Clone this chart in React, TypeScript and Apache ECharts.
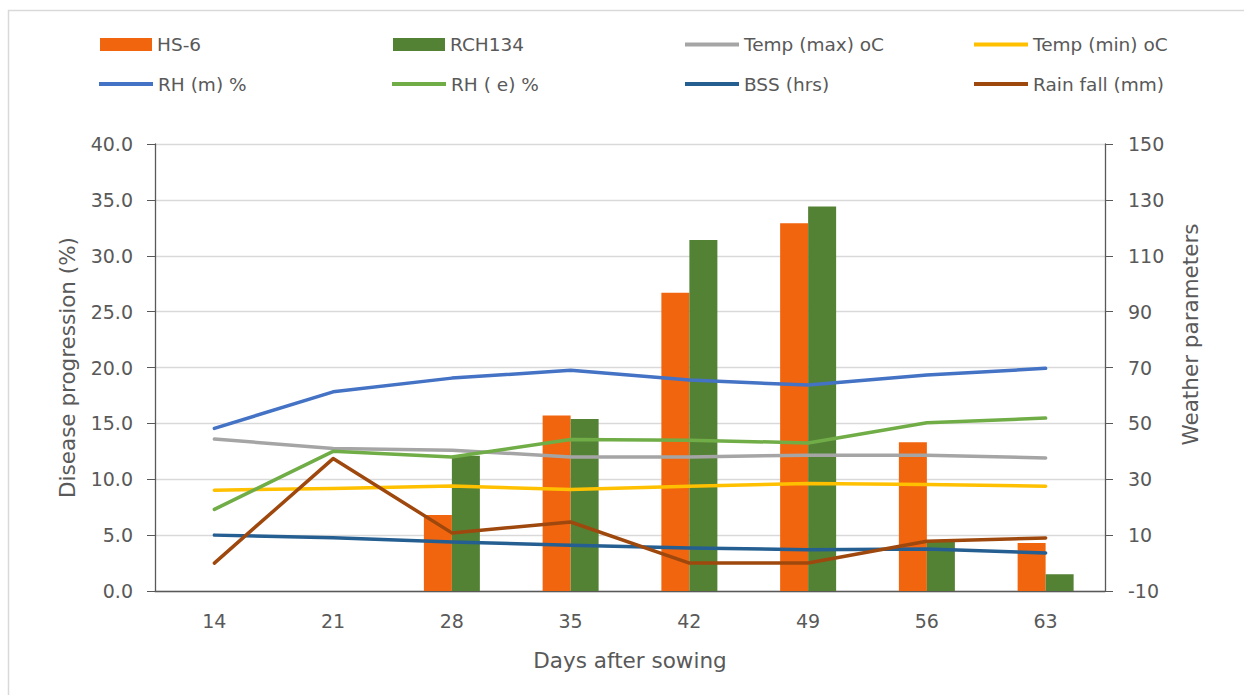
import React, { useEffect, useRef } from "react";
import * as echarts from "echarts";

// Days after sowing (category axis)
const days = ["14", "21", "28", "35", "42", "49", "56", "63"];

// Disease progression (%) — left axis
const hs6 = [0, 0, 6.8, 15.7, 26.7, 32.9, 13.3, 4.3];
const rch134 = [0, 0, 12.1, 15.4, 31.4, 34.4, 4.5, 1.5];

// Weather parameters — right axis
const tempMax = [44.4, 41.0, 40.4, 38.0, 38.0, 38.6, 38.6, 37.6];
const tempMin = [26.1, 26.7, 27.6, 26.3, 27.5, 28.5, 28.1, 27.5];
const rhMorning = [48.2, 61.3, 66.2, 69.0, 65.5, 63.7, 67.3, 69.7];
const rhEvening = [19.2, 40.0, 38.0, 44.2, 44.0, 43.0, 50.2, 51.9];
const bss = [10.0, 9.1, 7.5, 6.4, 5.4, 4.8, 5.0, 3.6];
const rainfall = [0, 37.4, 10.8, 14.7, 0, 0, 7.8, 9.0];

// Axis tick values
const leftTicks = [0, 5, 10, 15, 20, 25, 30, 35, 40];
const rightTicks = [-10, 10, 30, 50, 70, 90, 110, 130, 150];

const FONT = "DejaVu Sans";
const TEXT = "#595959";
const AXIS = "#595959";

const lineDefs = [
  { name: "Temp (max) oC", data: tempMax, color: "#A5A5A5" },
  { name: "Temp (min) oC", data: tempMin, color: "#FFC000" },
  { name: "RH (m) %", data: rhMorning, color: "#4472C4" },
  { name: "RH ( e) %", data: rhEvening, color: "#70AD47" },
  { name: "BSS (hrs)", data: bss, color: "#255E91" },
  { name: "Rain fall (mm)", data: rainfall, color: "#9E480E" },
];

const legendSlots = [
  { name: "HS-6", left: 100, row: 0, bar: true },
  { name: "RCH134", left: 393, row: 0, bar: true },
  { name: "Temp (max) oC", left: 685, row: 0, bar: false },
  { name: "Temp (min) oC", left: 974, row: 0, bar: false },
  { name: "RH (m) %", left: 99, row: 1, bar: false },
  { name: "RH ( e) %", left: 392, row: 1, bar: false },
  { name: "BSS (hrs)", left: 685, row: 1, bar: false },
  { name: "Rain fall (mm)", left: 974, row: 1, bar: false },
];

export default function App() {
  const ref = useRef<HTMLDivElement>(null);

  useEffect(() => {
    if (!ref.current) return;
    const chart = echarts.init(ref.current, null, { renderer: "svg" });

    const legends = legendSlots.map((s) => {
      const center = s.row === 0 ? 44.5 : 84;
      return {
        data: [s.name],
        left: s.left,
        top: center - 9.5,
        padding: 0,
        itemGap: 0,
        itemWidth: s.bar ? 52 : 54,
        itemHeight: s.bar ? 13 : 4,
        icon: "rect",
        textStyle: { fontFamily: FONT, fontSize: 18.5, color: TEXT },
        selectedMode: false,
      };
    });

    chart.setOption({
      animation: false,
      backgroundColor: "#ffffff",
      textStyle: { fontFamily: FONT },
      graphic: [
        {
          type: "rect",
          shape: { x: 8.5, y: 10.5, width: 1300, height: 800 },
          style: { fill: "none", stroke: "#D9D9D9", lineWidth: 1.5 },
          silent: true,
        },
      ],
      legend: legends,
      grid: { left: 155, right: 139, top: 144, bottom: 104, containLabel: false },
      xAxis: {
        type: "category",
        data: days,
        axisLine: { show: true, lineStyle: { color: AXIS, width: 1.3 } },
        axisTick: { show: false },
        axisLabel: { fontFamily: FONT, fontSize: 19, color: TEXT, margin: 20 },
        name: "Days after sowing",
        nameLocation: "middle",
        nameGap: 58,
        nameTextStyle: { fontFamily: FONT, fontSize: 21.5, color: TEXT },
      },
      yAxis: [
        {
          type: "value",
          min: 0,
          max: 40,
          interval: 5,
          axisLine: { show: true, lineStyle: { color: AXIS, width: 1.3 } },
          axisTick: { show: true, inside: false, length: 8, lineStyle: { color: AXIS } },
          axisLabel: {
            fontFamily: FONT,
            fontSize: 19,
            color: TEXT,
            margin: 22,
            customValues: leftTicks,
            formatter: (v: number) => v.toFixed(1),
          },
          splitLine: { show: true, lineStyle: { color: "#D9D9D9", width: 1.3 } },
          name: "Disease progression (%)",
          nameLocation: "middle",
          nameGap: 77,
          nameTextStyle: { fontFamily: FONT, fontSize: 21.5, color: TEXT },
        },
        {
          type: "value",
          min: -10,
          max: 150,
          interval: 20,
          position: "right",
          axisLine: { show: true, lineStyle: { color: AXIS, width: 1.3 } },
          axisTick: {
            show: true,
            inside: false,
            length: 8,
            customValues: rightTicks,
            lineStyle: { color: AXIS },
          },
          axisLabel: {
            fontFamily: FONT,
            fontSize: 19,
            color: TEXT,
            margin: 23,
            customValues: rightTicks,
          },
          splitLine: { show: false },
          name: "Weather parameters",
          nameLocation: "middle",
          nameGap: 74,
          nameTextStyle: {
            fontFamily: FONT,
            fontSize: 21.5,
            color: TEXT,
            padding: [0, 0, 0, 66],
          },
        },
      ],
      series: [
        {
          name: "HS-6",
          type: "bar",
          data: hs6,
          yAxisIndex: 0,
          barWidth: 28,
          barGap: "0%",
          itemStyle: { color: "#F1650F" },
        },
        {
          name: "RCH134",
          type: "bar",
          data: rch134,
          yAxisIndex: 0,
          barWidth: 28,
          barGap: "0%",
          itemStyle: { color: "#548235" },
        },
        ...lineDefs.map((l) => ({
          name: l.name,
          type: "line",
          data: l.data,
          yAxisIndex: 1,
          symbol: "none",
          showSymbol: false,
          lineStyle: { color: l.color, width: 3.5, cap: "round", join: "round" },
          itemStyle: { color: l.color },
        })),
      ],
    });

    return () => chart.dispose();
  }, []);

  return (
    <div
      ref={ref}
      style={{ position: "fixed", left: 0, top: 0, width: 1244, height: 695 }}
    />
  );
}
